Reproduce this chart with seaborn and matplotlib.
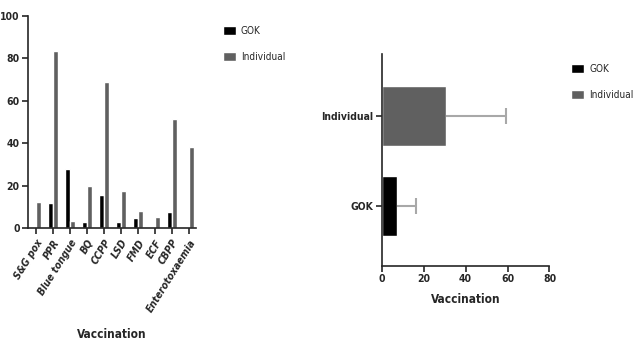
import pandas as pd
import matplotlib.pyplot as plt
import seaborn as sns

# vaccination by disease
diseases = ['S&G pox', 'PPR', 'Blue tongue', 'BQ', 'CCPP', 'LSD', 'FMD', 'ECF', 'CBPP', 'Enterotoxaemia']
gok = [0, 12, 28, 3, 15.6, 3, 4.9, 0, 7.4, 0]
individual = [12.4, 83.6, 3.3, 19.8, 68.9, 17.5, 8.2, 5, 51.4, 38.2]
providers = ['GOK', 'Individual']
colors = {'GOK': '#000000', 'Individual': '#606060'}

sns.set_style('ticks')
plt.rcParams['font.family'] = ['DejaVu Sans']
plt.rcParams['font.stretch'] = 'condensed'

df = pd.DataFrame({'Disease': diseases * 2,
                   'Provider': ['GOK'] * len(gok) + ['Individual'] * len(individual),
                   'Value': gok + individual})

fig = plt.figure(figsize=(6.33, 3.6), dpi=100)
ax1 = fig.add_axes([0.0442, 0.3667, 0.2654, 0.5889])
ax2 = fig.add_axes([0.603, 0.261, 0.265, 0.589])

tick_fs = 7.5
leg_kw = dict(frameon=False, fontsize=7.2, borderpad=0, borderaxespad=0,
              handlelength=1.3, handleheight=1.1, labelspacing=1.6, handletextpad=0.5)

# left: grouped bars per disease
sns.barplot(ax=ax1, data=df, x='Disease', y='Value', hue='Provider', hue_order=providers,
            palette=colors, width=0.6, saturation=1, legend=True)
ax1.set_xlim(-0.47, 9.41)
ax1.set_ylim(0, 100)
ax1.set_yticks([0, 20, 40, 60, 80, 100])
ax1.set_xlabel('Vaccination', fontsize=8.5, fontweight='bold', labelpad=10)
ax1.set_ylabel('')
ax1.tick_params(axis='y', labelsize=tick_fs, width=1.2, length=4, pad=2)
ax1.tick_params(axis='x', labelsize=tick_fs, width=1.2, length=4, pad=3)
for lab in ax1.get_yticklabels():
    lab.set_fontweight('bold')
for lab in ax1.get_xticklabels():
    lab.set_rotation(58)
    lab.set_ha('right')
    lab.set_rotation_mode('anchor')
    lab.set_fontstyle('italic')
    lab.set_fontweight('bold')
for s in ['left', 'bottom']:
    ax1.spines[s].set_linewidth(1.2)
sns.despine(ax=ax1)
ax1.legend(loc='upper left', bbox_to_anchor=(1.16, 0.955), **leg_kw)

# right: mean + SD per provider
stats = df.groupby('Provider')['Value'].agg(['mean', 'std']).reindex(['Individual', 'GOK'])
sns.barplot(ax=ax2, data=df, y='Provider', x='Value', hue='Provider', order=['Individual', 'GOK'],
            hue_order=providers, palette=colors, width=0.67, saturation=1, errorbar=None, legend=True)
_, caps, _ = ax2.errorbar(stats['mean'], [0, 1], xerr=[[0, 0], stats['std']], fmt='none',
                          ecolor='#a8a8a8', elinewidth=1.5, capsize=6, capthick=1.5)
caps[0].set_visible(False)
ax2.set_xlim(0, 80)
ax2.set_ylim(1.67, -0.69)
ax2.set_xticks([0, 20, 40, 60, 80])
ax2.set_xlabel('Vaccination', fontsize=8.5, fontweight='bold', labelpad=6)
ax2.set_ylabel('')
ax2.tick_params(axis='both', labelsize=tick_fs, width=1.2, length=4, pad=2)
for lab in ax2.get_xticklabels() + ax2.get_yticklabels():
    lab.set_fontweight('bold')
for s in ['left', 'bottom']:
    ax2.spines[s].set_linewidth(1.2)
sns.despine(ax=ax2)
ax2.legend(loc='upper left', bbox_to_anchor=(1.13, 0.955), **leg_kw)

fig.savefig('out.png', dpi=100)
